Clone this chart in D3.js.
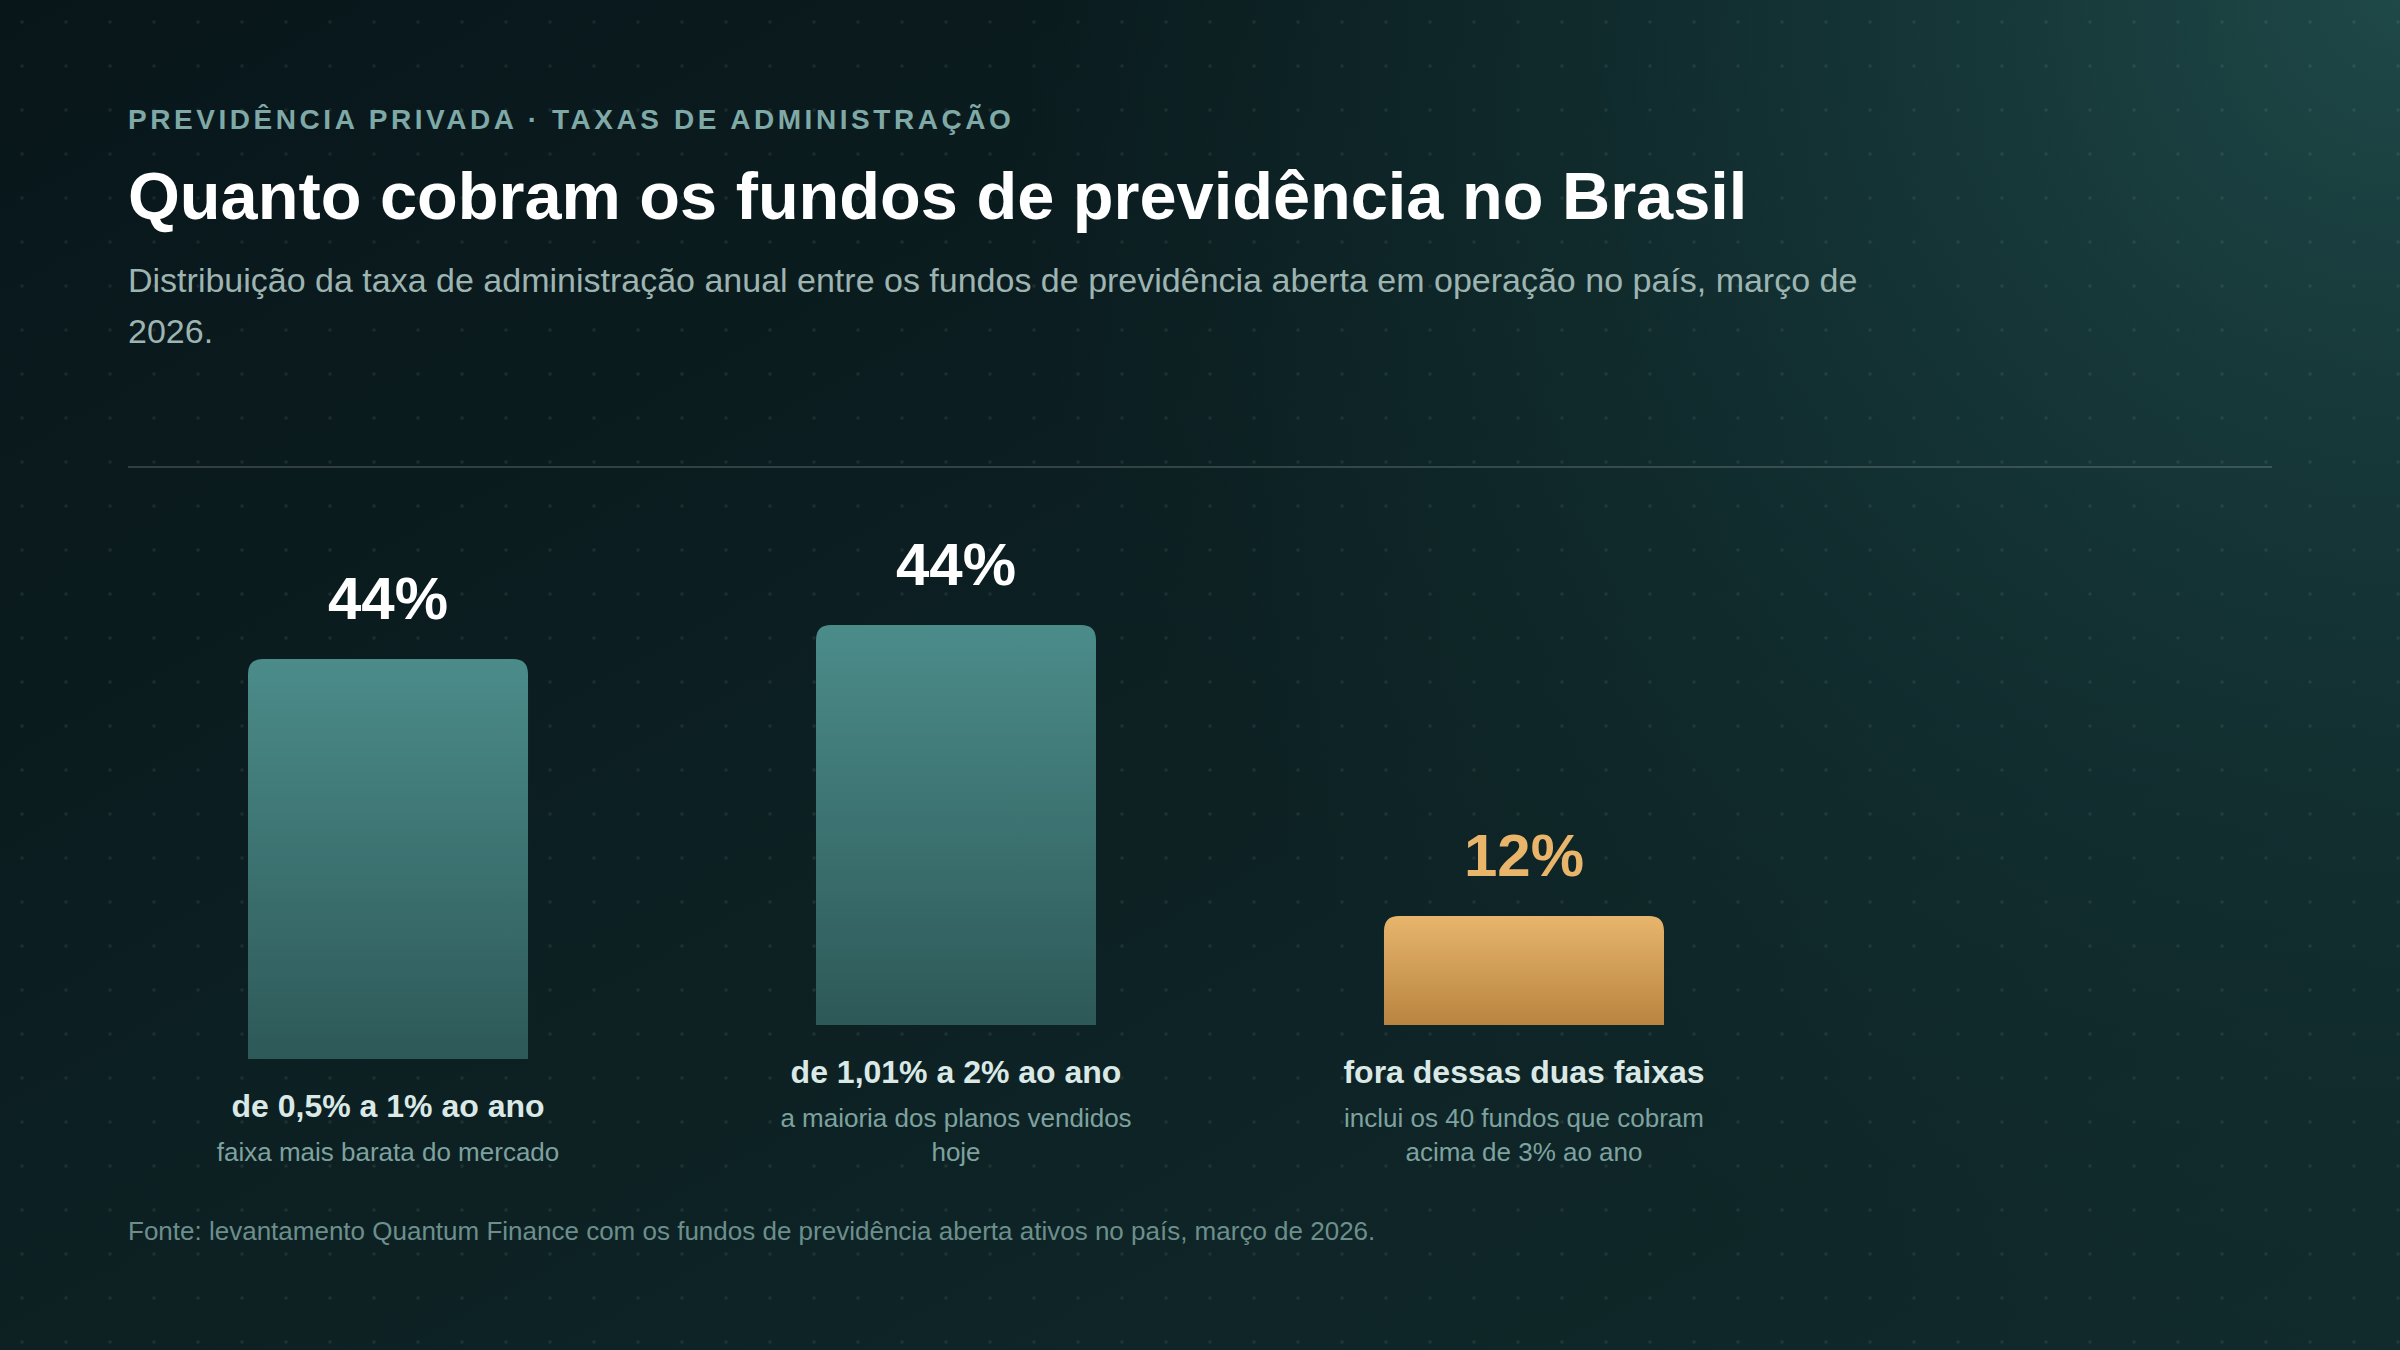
<!DOCTYPE html>
<html>
<head>
<meta charset="utf-8">
<script src="https://cdn.jsdelivr.net/npm/d3@7"></script>
<style>
  html, body { margin: 0; padding: 0; background: #0a1819; }
  svg { display: block; }
  text { font-family: "Liberation Sans", Arial, sans-serif; }
</style>
</head>
<body>
<svg id="chart" width="2400" height="1350"></svg>
<script>
// dados
var categorias = ["de 0,5% a 1% ao ano", "de 1,01% a 2% ao ano", "fora dessas duas faixas"];
var participacao = [44, 44, 12];
var notas = [
  ["faixa mais barata do mercado"],
  ["a maioria dos planos vendidos", "hoje"],
  ["inclui os 40 fundos que cobram", "acima de 3% ao ano"]
];
var destaque = [false, false, true];

var svg = d3.select("#chart"),
    W = +svg.attr("width"),
    H = +svg.attr("height");

var defs = svg.append("defs");

// fundo
var bg = defs.append("linearGradient").attr("id", "bg")
  .attr("x1", 0).attr("y1", 0).attr("x2", 1).attr("y2", 1);
bg.append("stop").attr("offset", 0).attr("stop-color", "#08161a");
bg.append("stop").attr("offset", 1).attr("stop-color", "#112a2b");

var glow = defs.append("radialGradient").attr("id", "glow")
  .attr("gradientUnits", "userSpaceOnUse")
  .attr("cx", 2400).attr("cy", 0).attr("r", 1400);
glow.append("stop").attr("offset", 0).attr("stop-color", "#1f4848").attr("stop-opacity", 1);
glow.append("stop").attr("offset", 0.5).attr("stop-color", "#16393a").attr("stop-opacity", 0.6);
glow.append("stop").attr("offset", 1).attr("stop-color", "#12302f").attr("stop-opacity", 0);

var dots = defs.append("pattern").attr("id", "dots")
  .attr("patternUnits", "userSpaceOnUse")
  .attr("width", 44).attr("height", 44);
dots.append("circle").attr("cx", 22).attr("cy", 22).attr("r", 1.8)
  .attr("fill", "#ffffff").attr("fill-opacity", 0.07);

svg.append("rect").attr("width", W).attr("height", H).attr("fill", "url(#bg)");
svg.append("rect").attr("width", W).attr("height", H).attr("fill", "url(#glow)");
svg.append("rect").attr("width", W).attr("height", H).attr("fill", "url(#dots)");

// gradientes das barras
var gTeal = defs.append("linearGradient").attr("id", "barTeal")
  .attr("x1", 0).attr("y1", 0).attr("x2", 0).attr("y2", 1);
gTeal.append("stop").attr("offset", 0).attr("stop-color", "#4b8c8a");
gTeal.append("stop").attr("offset", 1).attr("stop-color", "#2d5958");

var gGold = defs.append("linearGradient").attr("id", "barGold")
  .attr("x1", 0).attr("y1", 0).attr("x2", 0).attr("y2", 1);
gGold.append("stop").attr("offset", 0).attr("stop-color", "#e8b56d");
gGold.append("stop").attr("offset", 1).attr("stop-color", "#b8843f");

// cabeçalho
var left = 128;
svg.append("text")
  .attr("x", left).attr("y", 129)
  .attr("fill", "#7fa9a6")
  .style("font-size", "28px").style("font-weight", "bold")
  .style("letter-spacing", "3.55px")
  .text("PREVIDÊNCIA PRIVADA · TAXAS DE ADMINISTRAÇÃO");

svg.append("text")
  .attr("x", left).attr("y", 219)
  .attr("fill", "#ffffff")
  .style("font-size", "66.7px").style("font-weight", "bold")
  .text("Quanto cobram os fundos de previdência no Brasil");

var sub = svg.append("text")
  .attr("x", left).attr("y", 292)
  .attr("fill", "#9db4b1")
  .style("font-size", "34px");
sub.append("tspan").attr("x", left).attr("y", 292)
  .text("Distribuição da taxa de administração anual entre os fundos de previdência aberta em operação no país, março de");
sub.append("tspan").attr("x", left).attr("y", 343).text("2026.");

svg.append("line")
  .attr("x1", left).attr("x2", 2272)
  .attr("y1", 467).attr("y2", 467)
  .attr("stroke", "#ffffff").attr("stroke-opacity", 0.16)
  .attr("stroke-width", 2);

// escalas
var x = d3.scaleBand()
  .domain(categorias)
  .range([248, 1664])
  .paddingInner(0.507)
  .paddingOuter(0);

var h = d3.scaleLinear().domain([0, d3.max(participacao)]).range([0, 400]);

var lastBaseline = 1161, lineH = 34;

var cols = svg.selectAll(".col")
  .data(categorias.map(function(c, i) {
    return { cat: c, v: participacao[i], notas: notas[i], gold: destaque[i] };
  }))
  .enter().append("g").attr("class", "col");

function barPath(x0, y0, w, hh, r) {
  return "M" + x0 + "," + (y0 + hh) +
    "V" + (y0 + r) +
    "Q" + x0 + "," + y0 + " " + (x0 + r) + "," + y0 +
    "H" + (x0 + w - r) +
    "Q" + (x0 + w) + "," + y0 + " " + (x0 + w) + "," + (y0 + r) +
    "V" + (y0 + hh) + "Z";
}

cols.each(function(d) {
  var g = d3.select(this);
  var bottom = lastBaseline - (d.notas.length - 1) * lineH - 44 - 58;
  var bh = h(d.v);
  var top = bottom - bh;
  var cx = x(d.cat) + x.bandwidth() / 2;

  g.append("path")
    .attr("d", barPath(x(d.cat), top, x.bandwidth(), bh, 15))
    .attr("fill", d.gold ? "url(#barGold)" : "url(#barTeal)");

  g.append("text")
    .attr("x", cx).attr("y", top - 40)
    .attr("text-anchor", "middle")
    .attr("fill", d.gold ? "#e8b56b" : "#ffffff")
    .style("font-size", "60px").style("font-weight", "bold")
    .text(d.v + "%");

  g.append("text")
    .attr("x", cx).attr("y", bottom + 58)
    .attr("text-anchor", "middle")
    .attr("fill", "#dbe9e6")
    .style("font-size", "32px").style("font-weight", "bold")
    .text(d.cat);

  g.selectAll(".nota")
    .data(d.notas)
    .enter().append("text")
    .attr("class", "nota")
    .attr("x", cx)
    .attr("y", function(t, j) { return bottom + 58 + 44 + j * lineH; })
    .attr("text-anchor", "middle")
    .attr("fill", "#7ea29f")
    .style("font-size", "26px")
    .text(function(t) { return t; });
});

// fonte
svg.append("text")
  .attr("x", left).attr("y", 1240)
  .attr("fill", "#6c8f8c")
  .style("font-size", "26px")
  .text("Fonte: levantamento Quantum Finance com os fundos de previdência aberta ativos no país, março de 2026.");
</script>
</body>
</html>
